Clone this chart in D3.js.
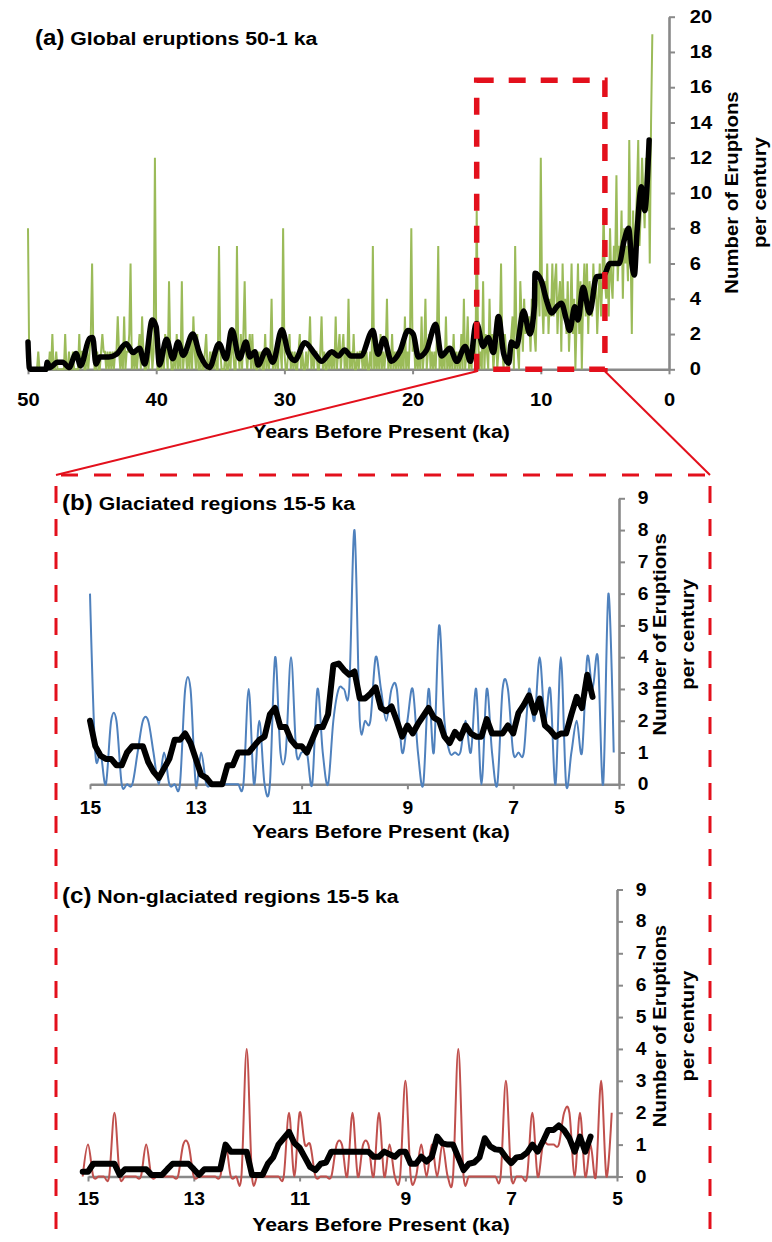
<!DOCTYPE html>
<html>
<head>
<meta charset="utf-8">
<script src="https://cdn.jsdelivr.net/npm/d3@7"></script>
<style>
    body { margin: 0; background: #fff; }
    svg text { font-family: "Liberation Sans", Arial, Helvetica, sans-serif; font-weight: bold; fill: #000; }
</style>
</head>
<body>
<div id="chart"></div>
<script>
// ---- panel (a): global eruptions per century, 50.0 ka down to 1.3 ka, one value per 0.1 ka
var greenAStart = 50.0;
var greenA = [
    8, 0, 0, 0, 0, 0, 0, 0, 1, 0,   // 50.0 - 49.1
    0, 0, 0, 0, 0, 0, 0, 1, 0, 2,   // 49
    0, 0, 1, 0, 0, 0, 0, 0, 0, 2,   // 48
    0, 0, 1, 0, 0, 1, 0, 0, 0, 0,   // 47
    2, 0, 1, 1, 0, 0, 1, 0, 1, 2,   // 46
    6, 1, 0, 0, 1, 0, 0, 1, 2, 1,   // 45
    1, 0, 1, 0, 1, 0, 1, 0, 1, 1,   // 44
    3, 1, 0, 1, 0, 3, 0, 1, 1, 2,   // 43
    6, 0, 1, 0, 1, 0, 1, 2, 0, 3,   // 42
    1, 0, 0, 1, 0, 1, 2, 0, 1, 12,  // 41
    2, 0, 0, 1, 0, 1, 0, 2, 1, 0,   // 40
    5, 1, 0, 0, 1, 0, 2, 0, 1, 0,   // 39
    5, 0, 1, 1, 0, 1, 0, 2, 0, 3,   // 38
    1, 0, 2, 0, 0, 1, 0, 0, 1, 2,   // 37
    0, 0, 1, 0, 1, 0, 1, 0, 0, 7,   // 36
    1, 0, 0, 0, 1, 0, 0, 1, 0, 2,   // 35
    1, 0, 0, 7, 1, 0, 2, 0, 2, 5,   // 34
    1, 0, 1, 2, 0, 2, 0, 1, 0, 0,   // 33
    1, 0, 1, 0, 0, 2, 0, 1, 0, 1,   // 32
    4, 0, 1, 0, 1, 0, 2, 1, 0, 8,   // 31
    1, 0, 0, 1, 2, 0, 1, 0, 1, 0,   // 30
    0, 1, 2, 0, 1, 0, 0, 1, 0, 1,   // 29
    3, 0, 1, 0, 1, 1, 0, 0, 1, 3,   // 28
    0, 1, 0, 0, 1, 0, 1, 0, 1, 0,   // 27
    3, 0, 1, 2, 0, 1, 2, 0, 1, 0,   // 26
    4, 0, 1, 0, 2, 0, 0, 1, 0, 1,   // 25
    1, 0, 1, 0, 1, 0, 0, 1, 0, 7,   // 24
    0, 1, 0, 1, 0, 2, 0, 1, 0, 1,   // 23
    4, 0, 1, 0, 2, 0, 1, 0, 1, 0,   // 22
    1, 0, 1, 0, 3, 0, 1, 0, 2, 8,   // 21
    1, 2, 0, 1, 0, 1, 0, 3, 0, 1,   // 20
    4, 0, 1, 2, 0, 1, 0, 1, 0, 2,   // 19
    7, 0, 1, 0, 1, 0, 3, 0, 1, 0,   // 18
    1, 0, 2, 0, 1, 0, 1, 0, 2, 0,   // 17
    4, 0, 1, 3, 0, 1, 0, 2, 1, 0,   // 16
    9, 2, 0, 1, 0, 5, 0, 2, 1, 0,   // 15
    4, 1, 2, 0, 1, 3, 0, 1, 2, 6,   // 14
    1, 0, 2, 1, 0, 0, 1, 2, 3, 0,   // 13
    7, 2, 1, 0, 5, 3, 1, 4, 2, 3,   // 12
    2, 3, 1, 4, 3, 2, 1, 4, 5, 3,   // 11
    12, 4, 2, 5, 3, 6, 2, 4, 3, 6,  // 10
    3, 5, 6, 2, 4, 5, 1, 6, 3, 4,   // 9
    2, 5, 1, 3, 6, 2, 4, 0, 3, 6,   // 8
    2, 5, 0, 4, 6, 3, 6, 2, 5, 4,   // 7
    3, 6, 4, 5, 2, 4, 6, 3, 5, 9,   // 6
    5, 4, 6, 3, 8, 5, 4, 7, 6, 11,  // 5
    5, 7, 6, 9, 4, 8, 6, 7, 5, 13,  // 4
    7, 2, 9, 6, 8, 10, 13, 7, 9, 12, // 3
    10, 8, 12, 9, 13, 6, 14, 19     // 2.0 - 1.3
];

// running mean (black), read at its turning points
var blackAYears = [50.0, 49.9, 49.8, 48.6, 48.5, 48.3, 47.7, 47.3, 46.8, 46.25, 45.9, 45.2, 44.95, 44.7, 44.4, 43.7,
    43.1, 42.35, 41.8, 41.3, 40.9, 40.3, 40.0, 39.75, 39.2, 38.7, 38.3, 37.9, 37.15, 36.6, 35.85, 35.1, 34.55, 34.1,
    33.5, 33.0, 32.7, 32.3, 32.05, 31.4, 30.9, 30.2, 29.7, 29.2, 28.4, 27.6, 27.1, 26.3, 25.8, 25.3, 24.8, 24.05,
    23.1, 22.7, 22.25, 21.65, 21.0, 20.35, 19.95, 19.55, 18.9, 18.2, 17.75, 17.1, 16.55, 15.9, 15.5, 15.1, 15.0,
    14.5, 14.1, 13.7, 13.3, 12.9, 12.5, 12.3, 11.9, 11.35, 10.85, 10.5, 10.45, 9.95, 9.55, 9.15, 8.75, 8.4, 8.0,
    7.75, 7.35, 7.1, 6.7, 6.2, 5.65, 5.1, 4.6, 3.9, 3.5, 3.15, 2.9, 2.7, 2.5, 2.15, 1.9, 1.55];
var blackAValues = [1.55, 0.1, 0, 0, 0.4, 0.1, 0.4, 0.4, 0.1, 0.9, 0.2, 1.75, 1.8, 0.3, 0.7, 0.7,
    0.85, 1.45, 0.95, 1.2, 0.3, 2.8, 2.4, 0.25, 1.7, 0.6, 1.55, 0.8, 2.0, 0.85, 0.1, 1.45, 0.6, 2.25,
    0.6, 1.55, 0.7, 1.0, 0.25, 1.1, 0.4, 2.25, 0.95, 0.5, 1.5, 0.85, 0.45, 1.0, 0.75, 1.1, 0.75, 0.75,
    2.2, 0.85, 1.75, 0.45, 1.0, 2.2, 2.0, 0.7, 1.1, 2.55, 0.75, 1.2, 0.45, 1.3, 0.45, 2.5, 2.6,
    1.3, 1.8, 0.95, 3.0, 0.9, 0.35, 1.55, 1.3, 3.3, 2.0, 3.6, 5.45, 5.0, 3.9, 3.2, 3.55, 3.75, 2.8,
    2.2, 3.55, 2.8, 4.65, 3.2, 5.25, 5.3, 6.0, 6.0, 7.3, 8.0, 6.0, 5.35, 7.7, 10.35, 9.0, 13.0];

var ticksAX = [50, 40, 30, 20, 10, 0];
var ticksAY = [0, 2, 4, 6, 8, 10, 12, 14, 16, 18, 20];
var zoomWindow = [15, 5];
var zoomTop = 16.4;

// ---- panel (b): glaciated regions, 15.0 ka to 5.1 ka per 0.1 ka
var blueBStart = 15.0;
var blueB = [
    6, 1, 1, 0, 2, 2, 0, 0, 0, 1,
    2, 2, 1, 0, 1, 0, 0, 0, 3, 3,
    0, 1, 0, 0, 0, 0, 0, 0, 0, 0,
    3, 0, 2, 0, 0, 4, 1, 1, 4, 1,
    1, 1, 0, 3, 1, 0, 2, 3, 3, 3,
    8, 2, 2, 2, 4, 3, 2, 3, 3, 1,
    2, 3, 1, 0, 3, 1, 5, 2, 1, 1,
    1, 2, 1, 3, 0, 3, 1, 0, 3, 3,
    1, 1, 1, 3, 2, 4, 2, 3, 0, 4,
    0, 1, 2, 1, 4, 3, 4, 0, 6, 1
];
var blackBStart = 15.0;
var blackB = [
    2.0, 1.2, 0.9, 0.8, 0.8, 0.6, 0.6, 1.0, 1.2, 1.2,
    1.2, 0.7, 0.4, 0.2, 0.5, 0.8, 1.4, 1.4, 1.6, 1.3,
    0.8, 0.3, 0.2, 0.0, 0.0, 0.0, 0.6, 0.6, 1.0, 1.0,
    1.0, 1.2, 1.4, 1.5, 2.2, 2.4, 1.8, 1.8, 1.4, 1.2,
    1.2, 1.0, 1.4, 1.8, 1.8, 2.2, 3.75, 3.8, 3.6, 3.45,
    3.55, 2.7, 2.7, 2.85, 3.05, 2.4, 2.3, 2.45, 2.0, 1.5,
    1.85, 1.6, 1.9, 2.15, 2.4, 2.1, 2.0, 1.5, 1.3, 1.65,
    1.45, 1.85, 1.6, 1.5, 1.5, 2.05, 1.6, 1.6, 1.6, 1.85,
    1.6, 2.25, 2.5, 2.8, 2.25, 2.7, 1.85, 1.7, 1.5, 1.6,
    1.6, 2.2, 2.75, 2.4, 3.45, 2.75
];

// ---- panel (c): non-glaciated regions, 15.1 ka to 5.1 ka per 0.1 ka
var redCStart = 15.1;
var redC = [
    0,
    1, 0, 0, 0, 0, 2, 0, 0, 0, 0,
    0, 1, 0, 0, 0, 0, 0, 0, 1, 1,
    0, 0, 0, 0, 0, 0, 1, 0, 0, 0,
    4, 0, 0, 0, 0, 0, 0, 0, 2, 0,
    2, 1, 1, 0, 0, 0, 0, 1, 1, 0,
    2, 0, 1, 1, 0, 2, 0, 1, 0, 0,
    3, 0, 0, 1, 0, 1, 0, 1, 0, 0,
    4, 0, 0, 0, 0, 0, 0, 0, 0, 3,
    0, 0, 0, 0, 2, 0, 1, 1, 1, 1,
    2, 2, 0, 2, 0, 1, 0, 3, 0, 2
];
var blackCStart = 15.1;
var blackC = [
    0.15,
    0.15, 0.4, 0.4, 0.4, 0.4, 0.4, 0.05, 0.23, 0.23, 0.23,
    0.23, 0.23, 0.05, 0.05, 0.05, 0.23, 0.4, 0.4, 0.4, 0.4,
    0.23, 0.05, 0.23, 0.23, 0.23, 0.23, 1.0, 0.78, 0.78, 0.78,
    0.78, 0.05, 0.05, 0.05, 0.4, 0.6, 1.0, 1.2, 1.4, 1.05,
    0.9, 0.6, 0.3, 0.2, 0.4, 0.44, 0.78, 0.78, 0.78, 0.78,
    0.78, 0.78, 0.78, 0.78, 0.62, 0.62, 0.78, 0.7, 0.62, 0.78,
    0.78, 0.4, 0.4, 0.62, 0.47, 0.62, 1.25, 1.04, 1.0, 1.0,
    0.6, 0.2, 0.4, 0.44, 0.6, 1.2, 0.95, 0.85, 0.83, 0.6,
    0.42, 0.6, 0.62, 0.75, 1.0, 0.78, 1.1, 1.46, 1.46, 1.6,
    1.45, 1.2, 0.78, 1.25, 0.78, 1.25
];

var ticksBCX = [15, 13, 11, 9, 7, 5];
var ticksBCY = [0, 1, 2, 3, 4, 5, 6, 7, 8, 9];

// ---- styles
var axisGray = "#898989";
var green = "#9bbb59";
var blue = "#4f81bd";
var redLine = "#c0504d";
var zoomRed = "#e3101c";

var svg = d3.select("#chart")
    .append("svg")
    .attr("width", 772)
    .attr("height", 1242);

// series -> points, one value every 0.1 ka
function toPoints(start, values) {
    return values.map(function (v, i) { return [Math.round((start - i * 0.1) * 10) / 10, v]; });
}

function styleAxis(g, fontSize, sx) {
    g.attr("font-family", null).attr("font-size", null);
    g.select(".domain").attr("stroke", axisGray).attr("stroke-width", 2.6);
    g.selectAll(".tick line").attr("stroke", axisGray).attr("stroke-width", 2);
    g.selectAll(".tick text")
        .attr("fill", "#000")
        .style("font-size", fontSize + "px")
        .attr("transform", "scale(" + sx + ",1)");
}

function addText(x, y, str, size, sx, anchor, rotate) {
    return svg.append("text")
        .attr("transform", "translate(" + x + "," + y + ") rotate(" + (rotate || 0) + ") scale(" + sx + ",1)")
        .attr("text-anchor", anchor)
        .style("font-size", size + "px")
        .text(str);
}

function addTitle(x, y, tag, rest) {
    var t = svg.append("text")
        .attr("transform", "translate(" + x + "," + y + ") scale(1.12,1)");
    t.append("tspan").style("font-size", "21.5px").text(tag);
    t.append("tspan").style("font-size", "19px").text(" " + rest);
}

function yTitle(cx, cy) {
    addText(cx, cy, "Number of Eruptions", 18.5, 1.1, "middle", -90);
    addText(cx + 28, cy, "per century", 18.5, 1.1, "middle", -90);
}

// ================= panel (a)
var xa = d3.scaleLinear().domain([50, 0]).range([28, 669]);
var ya = d3.scaleLinear().domain([0, 20]).range([369.3, 16.7]);

var axA = svg.append("g")
    .attr("transform", "translate(0," + ya(0) + ")")
    .call(d3.axisBottom(xa).tickValues(ticksAX).tickSize(5).tickSizeOuter(0).tickPadding(19).tickFormat(d3.format("d")));
styleAxis(axA, 17.5, 1.15);

var ayA = svg.append("g")
    .attr("transform", "translate(" + xa(0) + ",0)")
    .call(d3.axisRight(ya).tickValues(ticksAY).tickSize(6).tickSizeOuter(0).tickPadding(12));
styleAxis(ayA, 17.5, 1.15);

var lineA = d3.line()
    .x(function (d) { return xa(d[0]); })
    .y(function (d) { return ya(d[1]); });

svg.append("path")
    .datum(toPoints(greenAStart, greenA))
    .attr("fill", "none")
    .attr("stroke", green)
    .attr("stroke-width", 2)
    .attr("d", lineA);

svg.append("path")
    .datum(blackAYears.map(function (y, i) { return [y, blackAValues[i]]; }))
    .attr("fill", "none")
    .attr("stroke", "#000")
    .attr("stroke-width", 5.5)
    .attr("stroke-linejoin", "round")
    .attr("stroke-linecap", "round")
    .attr("d", lineA.curve(d3.curveMonotoneX));

addTitle(35, 45, "(a)", "Global eruptions 50-1 ka");
addText(381, 438, "Years Before Present (ka)", 18.5, 1.15, "middle");
yTitle(738, 192.5);

// zoom window + connectors to the lower panels
svg.append("rect")
    .attr("x", xa(zoomWindow[0]))
    .attr("y", ya(zoomTop))
    .attr("width", xa(zoomWindow[1]) - xa(zoomWindow[0]))
    .attr("height", ya(0) - ya(zoomTop))
    .attr("fill", "none")
    .attr("stroke", zoomRed)
    .attr("stroke-width", 5.5)
    .attr("stroke-dasharray", "17,15");

svg.append("line")
    .attr("x1", xa(zoomWindow[0])).attr("y1", ya(0) + 2)
    .attr("x2", 56).attr("y2", 475)
    .attr("stroke", zoomRed).attr("stroke-width", 2);
svg.append("line")
    .attr("x1", xa(zoomWindow[1])).attr("y1", ya(0) + 2)
    .attr("x2", 710).attr("y2", 475)
    .attr("stroke", zoomRed).attr("stroke-width", 2);

svg.append("path")
    .attr("d", "M56,1262V475H710V1262")
    .attr("fill", "none")
    .attr("stroke", zoomRed)
    .attr("stroke-width", 3)
    .attr("stroke-dasharray", "17,16");

// ================= panels (b) and (c)
function drawPanel(opt) {
    var x = d3.scaleLinear().domain([15, 5]).range([opt.left, opt.right]);
    var y = d3.scaleLinear().domain([0, 9]).range([opt.bottom, opt.top]);

    var gx = svg.append("g")
        .attr("transform", "translate(0," + y(0) + ")")
        .call(d3.axisBottom(x).tickValues(ticksBCX).tickSize(5).tickSizeOuter(0).tickPadding(opt.xPad));
    styleAxis(gx, 17.5, 1.1);

    var gy = svg.append("g")
        .attr("transform", "translate(" + x(5) + ",0)")
        .call(d3.axisRight(y).tickValues(ticksBCY).tickSize(6).tickSizeOuter(0).tickPadding(11));
    styleAxis(gy, 17.5, 1.1);

    var smooth = d3.line()
        .x(function (d) { return x(d[0]); })
        .y(function (d) { return y(d[1]); })
        .curve(d3.curveCatmullRom.alpha(0));
    var straight = d3.line()
        .x(function (d) { return x(d[0]); })
        .y(function (d) { return y(d[1]); });

    svg.append("path")
        .datum(opt.series)
        .attr("fill", "none")
        .attr("stroke", opt.color)
        .attr("stroke-width", 2)
        .attr("d", smooth);

    svg.append("path")
        .datum(opt.mean)
        .attr("fill", "none")
        .attr("stroke", "#000")
        .attr("stroke-width", 6)
        .attr("stroke-linejoin", "round")
        .attr("stroke-linecap", "round")
        .attr("d", straight);

    addTitle(62, opt.titleY, opt.tag, opt.title);
    addText(381, opt.xTitleY, "Years Before Present (ka)", 18.5, 1.15, "middle");
    yTitle(666, (opt.top + opt.bottom) / 2 - 7);
}

drawPanel({
    left: 90, right: 619, top: 498.3, bottom: 784.3, xPad: 12,
    series: toPoints(blueBStart, blueB), mean: toPoints(blackBStart, blackB), color: blue,
    tag: "(b)", title: "Glaciated regions 15-5 ka", titleY: 510, xTitleY: 838
});

drawPanel({
    left: 88, right: 617, top: 889.5, bottom: 1176.5, xPad: 11,
    series: toPoints(redCStart, redC), mean: toPoints(blackCStart, blackC), color: redLine,
    tag: "(c)", title: "Non-glaciated regions 15-5 ka", titleY: 903, xTitleY: 1231
});
</script>
</body>
</html>
